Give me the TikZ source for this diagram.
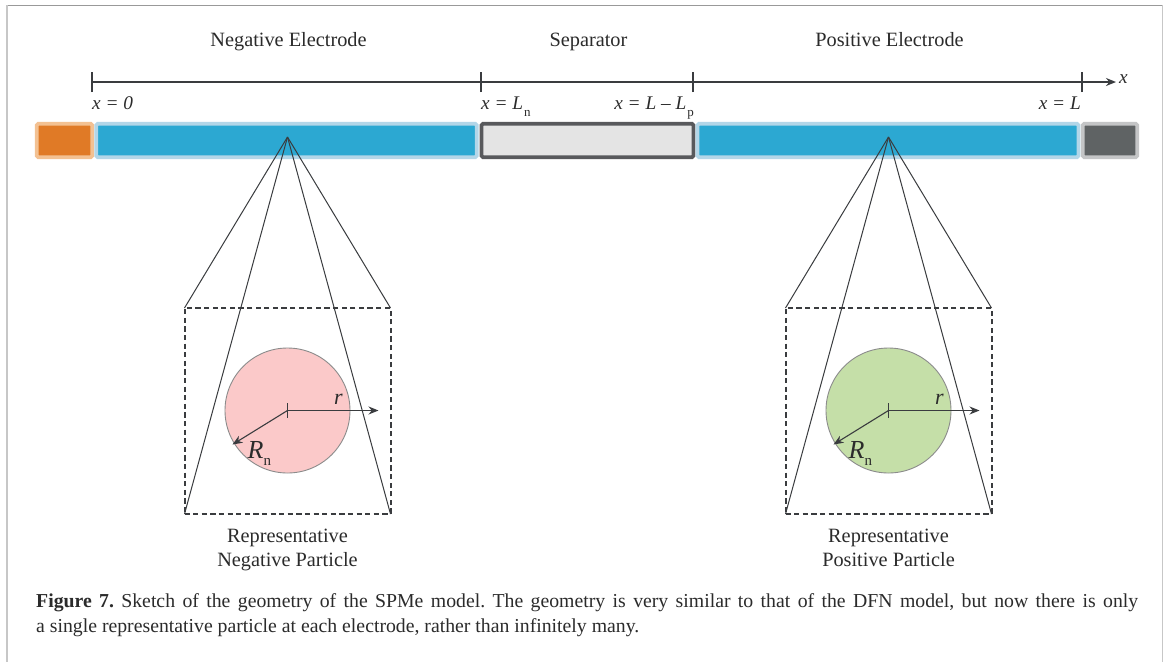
\documentclass[tikz,border=0pt]{standalone}
\usepackage{fontspec}
\setmainfont{Liberation Serif}
\usetikzlibrary{arrows.meta}
\definecolor{ink}{HTML}{3A3C3F}
\definecolor{txt}{HTML}{2B2B2B}
\definecolor{blueF}{HTML}{2CA8D2}
\definecolor{blueE}{HTML}{B3D6E8}
\definecolor{orF}{HTML}{E07A26}
\definecolor{orE}{HTML}{F3C192}
\definecolor{grF}{HTML}{5F6364}
\definecolor{grE}{HTML}{C4C5C6}
\definecolor{sepF}{HTML}{E4E4E4}
\definecolor{pinkF}{HTML}{FBC9C9}
\definecolor{greenF}{HTML}{C5DFA8}
\tikzset{
 x=1pt,y=-1pt,
 seg/.style={rounded corners=1.5pt,line width=3.6pt,outer sep=0pt,inner sep=0pt},
 lab/.style={font=\fontsize{20.3}{24}\selectfont,text=txt,inner sep=0pt,anchor=base},
 axlab/.style={font=\fontsize{19.3}{22}\selectfont\itshape,text=txt,inner sep=0pt,anchor=base west},
 tickl/.style={line width=1.7pt,draw=ink},
 axisl/.style={line width=1.7pt,draw=ink,-{Stealth[length=10pt,width=8pt]}},
 fan/.style={line width=1pt,draw=ink},
 dashbox/.style={draw=ink,line width=2pt,dash pattern=on 5.2pt off 3.4pt,minimum width=206pt,minimum height=206pt,inner sep=0pt,outer sep=0pt},
 part/.style={circle,draw=black!45,line width=0.9pt,minimum size=125pt,inner sep=0pt,outer sep=0pt},
 rad/.style={line width=1.1pt,draw=ink,-{Stealth[length=10pt,width=8pt]}},
 captxt/.style={anchor=base west,inner sep=0pt,text=txt,font=\fontsize{19.75}{19.75}\selectfont},
}
\newcommand{\sbs}[1]{\hspace{1pt}\raisebox{-7pt}{\upshape\fontsize{13}{13}\selectfont #1}}
\begin{document}
\frenchspacing
\begin{tikzpicture}
\useasboundingbox (0,0) rectangle (1167,662);
\fill[white] (0,0) rectangle (1167,662);
% frame
\draw[black!40,line width=0.8pt] (7,5) -- (1162,5);
\draw[black!22,line width=1.6pt] (7,5) -- (7,662);
\draw[black!22,line width=1pt] (1162,5) -- (1162,662);
% bars
\node[seg,draw=orE,fill=orF,minimum width=55.5pt,minimum height=33.5pt] (cn) at (64.5,140.5) {};
\node[seg,draw=blueE,fill=blueF,minimum width=380.5pt,minimum height=33.5pt] (neg) at (286.5,140.5) {};
\node[seg,draw=ink!85,fill=sepF,minimum width=212pt,minimum height=33.5pt] (sep) at (587.5,140.5) {};
\node[seg,draw=blueE,fill=blueF,minimum width=381pt,minimum height=33.5pt] (pos) at (888,140.5) {};
\node[seg,draw=grE,fill=grF,minimum width=54.5pt,minimum height=33.5pt] (cp) at (1110,140.5) {};
% axis
\coordinate (a0) at (92,82);
\coordinate (a1) at (481,82);
\coordinate (a2) at (693,82);
\coordinate (a3) at (1082,82);
\coordinate (aend) at (1116,82);
\draw[axisl] (a0) -- (aend);
\foreach \c in {a0,a1,a2,a3}{\draw[tickl] ([yshift=-10pt]\c) -- ([yshift=10pt]\c);}
% headings
\node[lab] (hn) at (288.5,46.5) {Negative Electrode};
\node[lab] (hs) at (588.5,46.5) {Separator};
\node[lab] (hp) at (889.5,46.5) {Positive Electrode};
% axis labels
\node[axlab] (l0) at (92,109) {x = 0};
\node[axlab] (l1) at (481,109) {x = L\sbs{n}};
\node[axlab,anchor=base east] (l2) at (694,109) {x = L – L\sbs{p}};
\node[axlab,anchor=base east] (l3) at (1081,109) {x = L};
\node[axlab] (lx) at (1119,83) {x};
% particles
\foreach \n/\cx/\col/\tA in {n/287.5/pinkF/Negative,p/888.5/greenF/Positive}{
 \coordinate (apex\n) at (\cx,137);
 \node[dashbox] (box\n) at (\cx,411) {};
 \node[part,fill=\col] (c\n) at (\cx,410.5) {};
 \draw[fan] (apex\n) -- (box\n.north west);
 \draw[fan] (apex\n) -- (box\n.north east);
 \draw[fan] (apex\n) -- (box\n.south west);
 \draw[fan] (apex\n) -- (box\n.south east);
 \coordinate (ctr\n) at (\cx,410.5);
 \coordinate (rE\n) at (\cx+91,410.5);
 \coordinate (RE\n) at (\cx-55,444.5);
 \draw[rad] (ctr\n) -- (rE\n);
 \draw[rad] (ctr\n) -- (RE\n);
 \draw[line width=1.4pt,draw=ink] (\cx,403) -- (\cx,418);
 \node[inner sep=0pt,anchor=base,font=\fontsize{22}{22}\selectfont\itshape,text=txt] (lr\n) at (\cx+51,404) {r};
 \node[inner sep=0pt,anchor=base west,font=\fontsize{26}{26}\selectfont\itshape,text=txt] (lR\n) at (\cx-40,458) {R\raisebox{-7pt}{\upshape\fontsize{15}{15}\selectfont n}};
 \node[lab] (t\n) at (\cx,542.3) {Representative};
 \node[lab] (u\n) at (\cx,566.3) {\tA\ Particle};
}
% caption
\node[captxt] (cap1) at (36,607.5) {\makebox[1102pt][s]{\textbf{Figure 7.} Sketch of the geometry of the SPMe model. The geometry is very similar to that of the DFN model, but now there is only}};
\node[captxt] (cap2) at (36,632) {a single representative particle at each electrode, rather than infinitely many.};
\end{tikzpicture}
\end{document}
